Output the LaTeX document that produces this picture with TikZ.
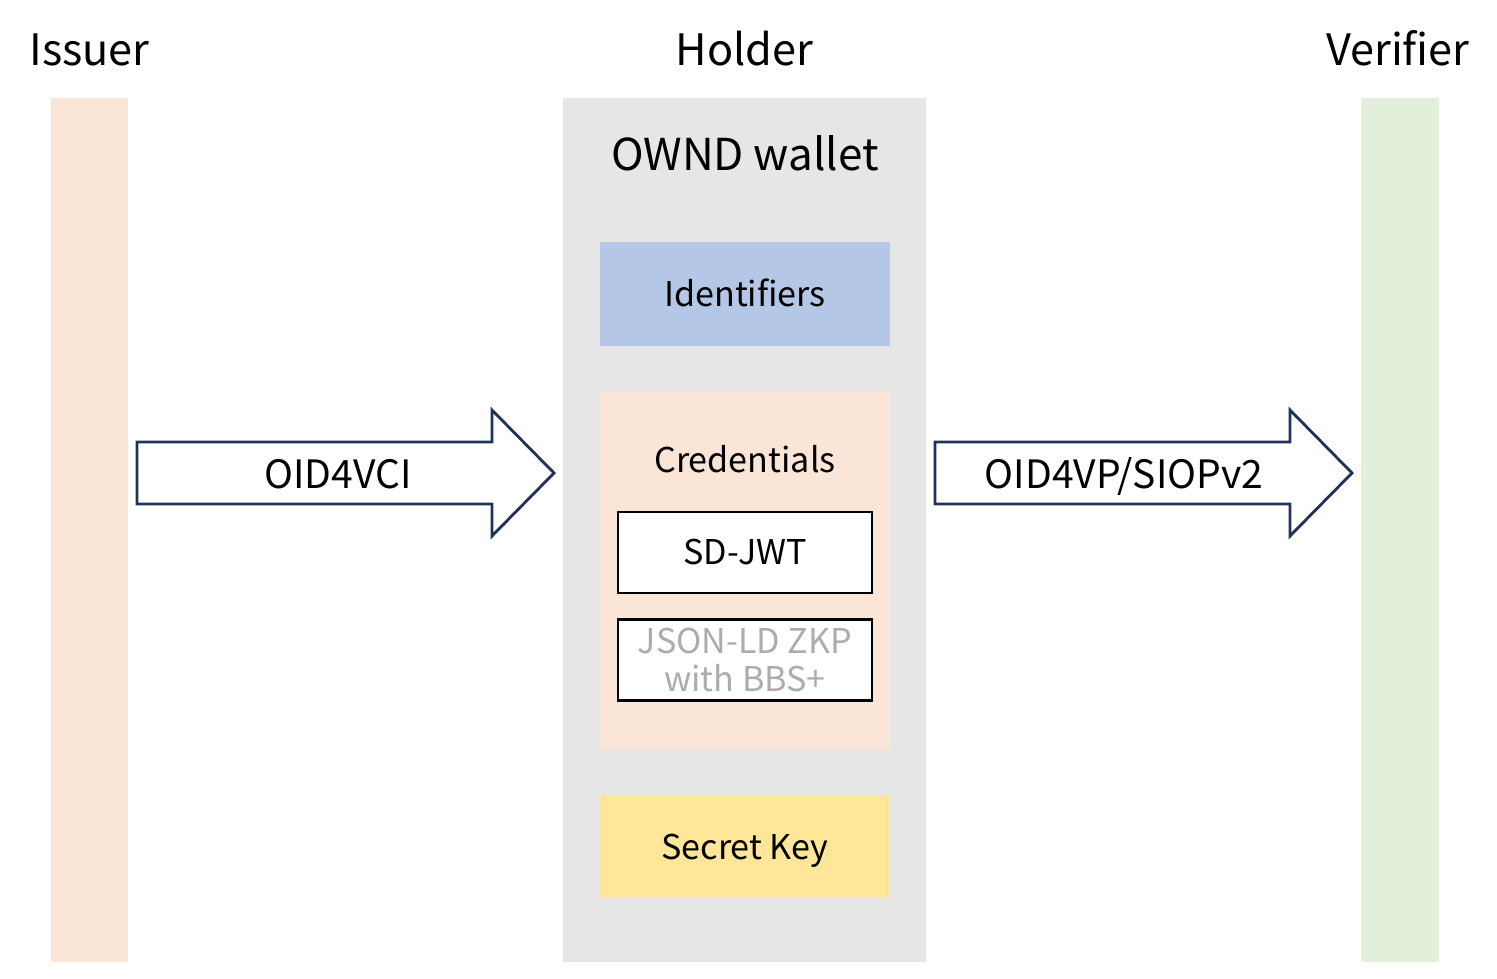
\documentclass[tikz,border=0pt]{standalone}
\usepackage{fontspec}
\setmainfont{Noto Sans CJK JP}
\usetikzlibrary{positioning}
\definecolor{issuercol}{HTML}{FBE5D6}
\definecolor{holdercol}{HTML}{E6E6E6}
\definecolor{verifiercol}{HTML}{E2EFDA}
\definecolor{idcol}{HTML}{B4C7E7}
\definecolor{keycol}{HTML}{FFE699}
\definecolor{flowcol}{HTML}{1F3358}
\definecolor{fadedcol}{HTML}{AEABAB}
\tikzset{
  lane/.style={inner sep=0pt,minimum height=8.64cm},
  title/.style={anchor=base,font=\fontsize{12.3}{15}\selectfont},
  block/.style={inner sep=0pt,minimum width=2.9cm,font=\fontsize{9.7}{11}\selectfont,text height=7.1pt,text depth=0pt},
  format/.style={draw=black,line width=0.7pt,fill=white,inner sep=0pt,minimum width=2.54cm,minimum height=0.81cm,font=\fontsize{9.7}{10.9}\selectfont},
  flow/.style={draw=flowcol,line width=0.8pt,fill=white},
  flowtext/.style={anchor=base,font=\fontsize{11.1}{14}\selectfont}
}
\begin{document}
\begin{tikzpicture}[x=0.01cm,y=-0.01cm]
\useasboundingbox (0,0) rectangle (1497,978);
% lanes
\node[lane,fill=issuercol,minimum width=0.77cm] (issuer) at (89.5,530){};
\node[lane,fill=holdercol,minimum width=3.63cm] (holder) at (744.5,530){};
\node[lane,fill=verifiercol,minimum width=0.77cm] (verifier) at (1400,530){};
\node[title,above=0.32cm of issuer,anchor=base] (issuertitle){Issuer};
\node[title,above=0.32cm of holder,anchor=base] (holdertitle){Holder};
\node[title,above=0.32cm of verifier,anchor=base,xshift=-0.6pt] (verifiertitle){Verifier};
% wallet
\node[anchor=base,font=\fontsize{12.5}{15}\selectfont] (wallet) at (745,170){OWND wallet};
\node[block,fill=idcol,minimum height=1.04cm] (ids) at (745,294){Identifiers};
\node[inner sep=0pt,fill=issuercol,minimum width=2.9cm,minimum height=3.58cm] (creds) at (745,571){};
\node[anchor=base,font=\fontsize{9.7}{11}\selectfont] (credtitle) at (745,472.7){Credentials};
\node[format,text height=7.1pt,text depth=0pt] (sdjwt) at (745,552.5){SD-JWT};
\node[format,text=fadedcol,align=center] (zkp) at (745,660){JSON-LD ZKP\\with BBS+};
\node[block,fill=keycol,minimum height=1.02cm] (key) at (745,847){Secret Key};
% protocols
\draw[flow] (137,442) -- (492,442) -- (492,410) -- (554,473) -- (492,536) -- (492,504) -- (137,504) -- cycle;
\draw[flow] (935,442) -- (1290,442) -- (1290,410) -- (1352,473) -- (1290,536) -- (1290,504) -- (935,504) -- cycle;
\node[flowtext] (issuance) at (338,488){OID4VCI};
\node[flowtext] (presentation) at (1124,488){OID4VP/SIOPv2};
\end{tikzpicture}
\end{document}
